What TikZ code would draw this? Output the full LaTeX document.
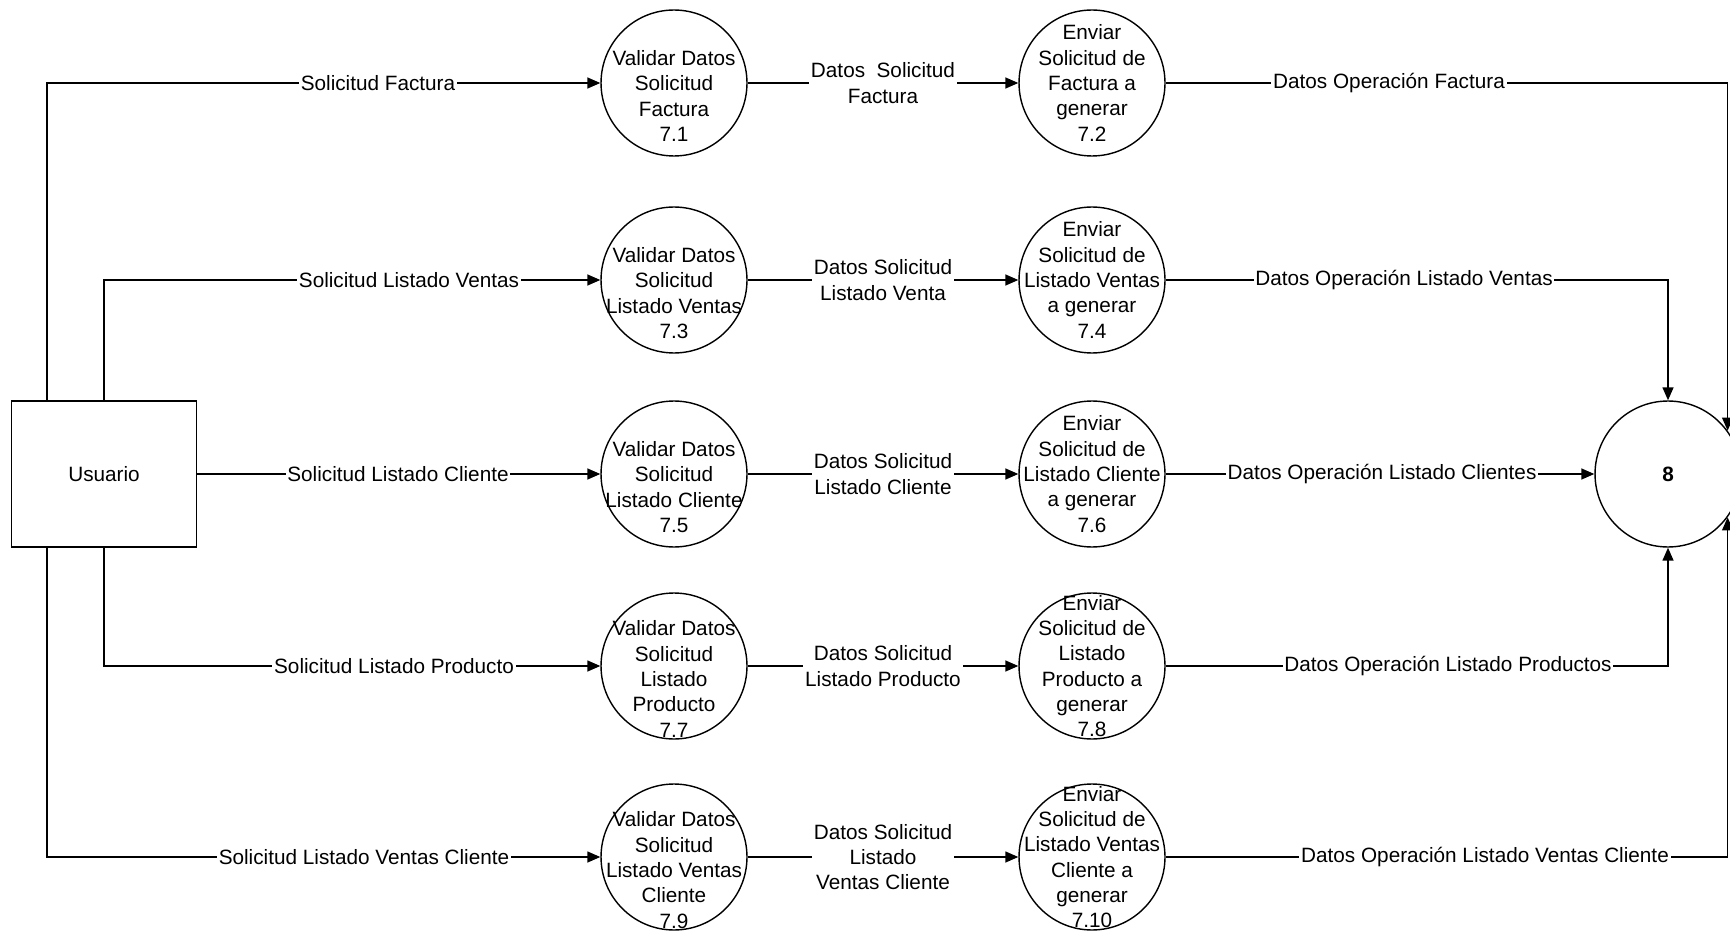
\documentclass[tikz,border=0pt]{standalone}
\usepackage{fontspec}
\setmainfont{Liberation Sans}
\usetikzlibrary{arrows.meta}

\tikzset{
  proc/.style={draw,circle,minimum size=2.92cm,inner sep=0pt},
  ptext/.style={align=center,inner sep=0pt},
  flow/.style={draw,line width=0.8pt,-{Triangle[length=2.6mm,width=2.2mm]}},
  lab/.style={fill=white,inner sep=1pt,align=center}
}

\begin{document}
\begin{tikzpicture}[x=0.02cm,y=-0.02cm,line width=0.8pt,
    font=\fontsize{11.8}{14.4}\selectfont]
  \useasboundingbox (0,0) rectangle (1730,932);

  \node[draw,minimum width=3.7cm,minimum height=2.92cm] (usr) at (104,474) {Usuario};
  \node[proc,font=\fontsize{11.8}{14.4}\selectfont\bfseries] (p8) at (1668,474) {8};

  % two processes per row
  \foreach \a/\b/\yy in {1/2/83, 3/4/280, 5/6/474, 7/8/666, 9/10/857} {
    \node[proc] (p7\a) at (674,\yy) {};
    \node[proc] (p7\b) at (1092,\yy) {};
    \draw[flow] (p7\a) -- (p7\b);
  }

  \node[ptext,yshift=-0.26cm] (t71) at (p71) {Validar Datos\\Solicitud\\Factura\\7.1};
  \node[ptext,yshift=-0.26cm] (t73) at (p73) {Validar Datos\\Solicitud\\Listado Ventas\\7.3};
  \node[ptext,yshift=-0.26cm] (t75) at (p75) {Validar Datos\\Solicitud\\Listado Cliente\\7.5};
  \node[ptext,yshift=-0.26cm] (t77) at (p77) {Validar Datos\\Solicitud\\Listado\\Producto\\7.7};
  \node[ptext,yshift=-0.26cm] (t79) at (p79) {Validar Datos\\Solicitud\\Listado Ventas\\Cliente\\7.9};
  \node[ptext] (t72) at (p72) {Enviar\\Solicitud de\\Factura a\\generar\\7.2};
  \node[ptext] (t74) at (p74) {Enviar\\Solicitud de\\Listado Ventas\\a generar\\7.4};
  \node[ptext] (t76) at (p76) {Enviar\\Solicitud de\\Listado Cliente\\a generar\\7.6};
  \node[ptext] (t78) at (p78) {Enviar\\Solicitud de\\Listado\\Producto a\\generar\\7.8};
  \node[ptext] (t710) at (p710) {Enviar\\Solicitud de\\Listado Ventas\\Cliente a\\generar\\7.10};

  % flows from Usuario
  \coordinate (c1) at (47,83);
  \coordinate (c9) at (47,857);
  \draw[flow] (usr.north -| c1) -- (c1) -- (p71);
  \draw[flow] (usr.north) |- (p73);
  \draw[flow] (usr.east) -- (p75);
  \draw[flow] (usr.south) |- (p77);
  \draw[flow] (usr.south -| c9) -- (c9) -- (p79);

  % flows into 8
  \draw[flow] (p72) -| (p8.36);
  \draw[flow] (p74) -| (p8);
  \draw[flow] (p76) -- (p8);
  \draw[flow] (p78) -| (p8);
  \draw[flow] (p710) -| (p8.-36);

  \node[lab] (s1) at (378,83) {Solicitud Factura};
  \node[lab] (s3) at (409,280) {Solicitud Listado Ventas};
  \node[lab] (s5) at (398,474) {Solicitud Listado Cliente};
  \node[lab] (s7) at (394,666) {Solicitud Listado Producto};
  \node[lab] (s9) at (364,857) {Solicitud Listado Ventas Cliente};

  \node[lab] (d1) at (883,83) {Datos\ \ Solicitud\\Factura};
  \node[lab] (d3) at (883,280) {Datos Solicitud\\Listado Venta};
  \node[lab] (d5) at (883,474) {Datos Solicitud\\Listado Cliente};
  \node[lab] (d7) at (883,666) {Datos Solicitud\\Listado Producto};
  \node[lab] (d9) at (883,857) {Datos Solicitud\\Listado\\Ventas Cliente};

  \node[lab] (o2) at (1389,83) {Datos Operación Factura};
  \node[lab] (o4) at (1404,280) {Datos Operación Listado Ventas};
  \node[lab] (o6) at (1382,474) {Datos Operación Listado Clientes};
  \node[lab] (o8) at (1448,666) {Datos Operación Listado Productos};
  \node[lab] (o10) at (1485,857) {Datos Operación Listado Ventas Cliente};
\end{tikzpicture}
\end{document}
